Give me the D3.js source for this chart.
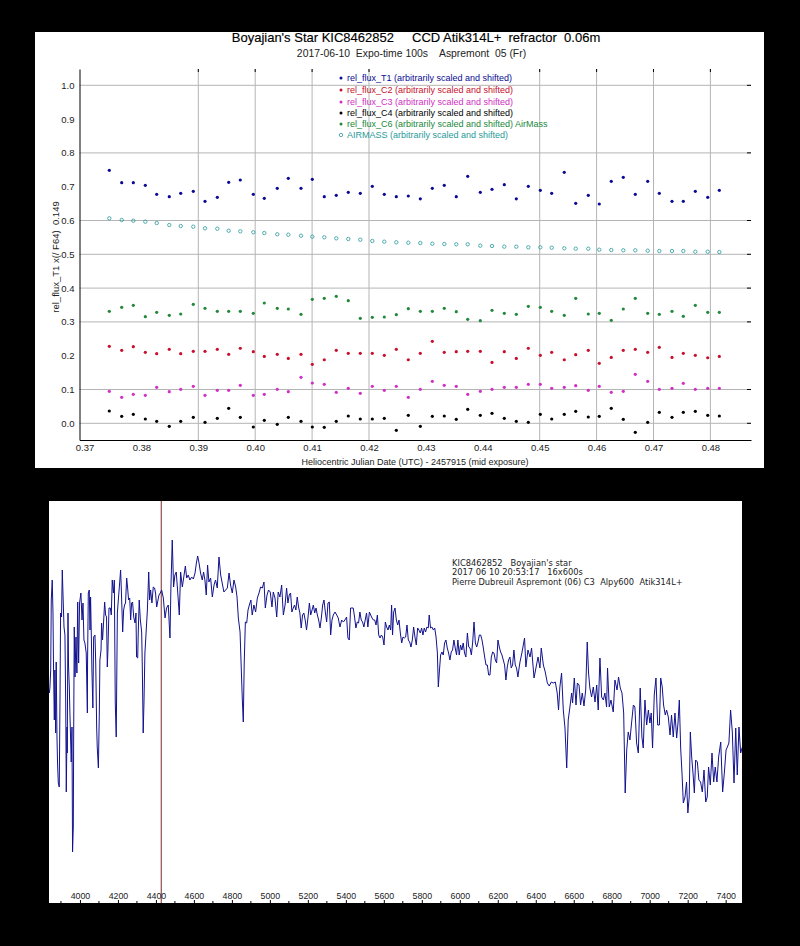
<!DOCTYPE html>
<html><head><meta charset="utf-8">
<script src="https://cdnjs.cloudflare.com/ajax/libs/d3/7.8.5/d3.min.js"></script>
<style>
html,body{margin:0;padding:0;background:#000;}
svg{display:block;}
text{font-family:"Liberation Sans",Arial,sans-serif;white-space:pre;}
</style></head><body><svg id="c" width="800" height="946"></svg>
<script>
const jd=[.37436,.37654,.37858,.38069,.38269,.3849,.38691,.38912,.39118,.39334,.39534,.39738,.39967,.4016,.40388,.40582,.40805,.41004,.41214,.41425,.41636,.41847,.42058,.42269,.4248,.42691,.42902,.43113,.43323,.43534,.43735,.43956,.44162,.44378,.44589,.448,.45011,.45211,.45432,.45633,.45854,.46047,.46258,.46469,.4668,.46898,.47102,.47325,.47524,.47735,.47953,.48157];
const fluxT1=[.7485,.7119,.7119,.7041,.6775,.6705,.6805,.6864,.6568,.6686,.713,.7198,.6775,.6657,.6953,.7249,.6953,.7219,.6705,.6746,.6834,.6805,.7012,.6775,.6705,.6725,.6642,.6953,.7041,.6705,.7308,.6834,.6923,.7059,.6642,.7012,.6893,.6805,.7426,.6509,.6746,.6488,.716,.7278,.6775,.716,.6805,.6568,.6568,.6864,.6686,.6893];
const fluxC2=[.2278,.216,.2266,.21,.206,.219,.206,.213,.213,.219,.204,.222,.212,.198,.204,.192,.204,.1745,.188,.216,.207,.207,.207,.201,.219,.188,.207,.2426,.21,.212,.213,.213,.18,.212,.192,.222,.201,.21,.188,.203,.216,.1775,.195,.216,.219,.21,.2248,.195,.207,.201,.194,.198];
const fluxC3=[.0947,.0769,.0858,.0828,.1065,.0935,.1006,.1095,.0828,.0976,.0976,.1124,.0828,.0858,.1006,.0935,.136,.1192,.1154,.0917,.1035,.0888,.1095,.0976,.1095,.0769,.1006,.1243,.1124,.1095,.0858,.0947,.1006,.1065,.1065,.1154,.1154,.1035,.1065,.1112,.0976,.1095,.0917,.0947,.145,.1243,.1006,.1035,.1183,.1006,.1035,.1035];
const fluxC4=[.0364,.0207,.0266,.0127,.0059,-.0089,.0059,.0178,.003,.0148,.0444,.0178,-.0109,.0089,-.003,.0178,.0059,-.0109,-.0118,.0059,.0216,.0127,.0127,.0148,-.0207,.0237,-.0089,.0207,.0216,.0118,.0414,.0237,.0296,.0148,.0059,.003,.0266,.0127,.0266,.0355,.0186,.0207,.0444,.0118,-.0266,.003,.0325,.0178,.0325,.0355,.0237,.0216];
const fluxC6=[.3314,.3432,.3491,.3154,.3284,.3195,.3234,.3521,.3402,.3314,.3314,.3314,.3254,.3559,.3402,.3382,.3225,.3669,.3698,.3757,.3627,.3107,.3136,.3145,.3213,.3391,.3314,.3314,.3402,.3302,.3077,.3036,.3343,.3254,.3225,.3461,.3432,.3314,.3195,.3698,.3234,.3254,.3047,.3382,.3698,.3254,.3225,.3314,.3166,.3491,.3284,.3284];
const airmass=[.6065,.6015,.5994,.5965,.5926,.5867,.5837,.5817,.5769,.5757,.5698,.568,.5651,.563,.5592,.558,.555,.5521,.5503,.5473,.5453,.5432,.5394,.5373,.5355,.5343,.5334,.5314,.5305,.5296,.5296,.5255,.5246,.5226,.5226,.5207,.5207,.5195,.5178,.5166,.5166,.5136,.5127,.5118,.5118,.5107,.5098,.5098,.5098,.5077,.5077,.5068];
const seriesNames=["rel_flux_T1 (arbitrarily scaled and shifted)","rel_flux_C2 (arbitrarily scaled and shifted)","rel_flux_C3 (arbitrarily scaled and shifted)","rel_flux_C4 (arbitrarily scaled and shifted)","rel_flux_C6 (arbitrarily scaled and shifted) AirMass","AIRMASS (arbitrarily scaled and shifted)"];
const seriesColors=["#0a0a96","#c8102e","#d22fc4","#000000","#22883a","#2a9a9a"];
const xTicksTop=[.37,.38,.39,.40,.41,.42,.43,.44,.45,.46,.47,.48];
const yTicksTop=[0,.1,.2,.3,.4,.5,.6,.7,.8,.9,1];
const xGridTop=[.39,.40,.41,.42,.45,.46,.47,.48];
const yGridTop=[0,.1,.3,.4,.5,.6,.8,1];
const specWave=[3839,3842,3846,3849,3854,3858,3861,3865,3868,3872,3875,3879,3882,3886,3891,3895,3898,3903,3907,3910,3916,3921,3925,3928,3932,3933,3937,3940,3944,3947,3954,3958,3961,3965,3967,3970,3974,3979,3984,3988,3993,3998,4005,4011,4016,4021,4026,4033,4039,4040,4044,4049,4053,4056,4060,4063,4068,4072,4079,4083,4088,4091,4097,4102,4105,4111,4114,4119,4125,4130,4135,4140,4144,4147,4153,4160,4165,4170,4176,4181,4186,4191,4197,4202,4209,4214,4218,4225,4230,4235,4240,4246,4251,4256,4262,4267,4272,4277,4283,4290,4295,4298,4304,4307,4312,4318,4325,4328,4333,4337,4342,4349,4355,4362,4367,4372,4379,4386,4393,4398,4404,4409,4416,4423,4430,
4439,4448,4456,4465,4474,4479,4486,4493,4500,4507,4514,4523,4530,4539,4546,4555,4562,4570,4579,4588,4597,4606,4613,4620,4627,4635,4644,4651,4658,4665,4672,4679,4688,4697,4706,4714,4723,4732,4741,4749,4758,4767,4776,4785,4793,4802,4811,4820,4827,4834,4843,4850,4855,4860,4865,4871,4878,4885,4892,4900,4907,4916,4925,4934,4943,4951,4960,4969,4976,4985,4993,5002,5011,5018,5027,5036,5044,5053,5062,5071,5080,
5088,5095,5102,5109,5116,5123,5130,5137,5144,5151,5158,5165,5172,5179,5186,5193,5201,5208,5215,5222,5229,5236,5243,5250,5257,5264,5271,5278,5285,5292,5299,5306,5313,5320,5327,5334,5343,5352,5360,5369,5378,5387,5395,5404,5411,5418,5425,5432,5439,5446,5453,5460,5467,5474,5481,5488,5495,5502,5509,5516,5524,5531,5538,5545,5552,5559,5566,5573,5580,5587,5594,5601,5608,5615,5622,5629,5636,5641,5646,5652,5659,5666,5673,5680,5687,5694,5701,5708,5715,5722,5729,5736,5743,5750,5757,5764,5771,5778,5785,5792,5799,5806,5813,5820,5827,5834,5839,5846,5853,5861,5868,5875,5882,5887,5892,5899,5906,5913,5920,5927,5934,5941,5948,5955,5962,5969,5976,5983,5990,5997,6004,6011,6018,6025,6032,6040,6047,6054,6061,6068,6075,6082,6089,6096,6103,6110,6117,6124,6131,6138,6145,6152,6159,6166,6173,6180,6187,6194,6201,6208,6215,6222,6229,6236,6243,6250,6257,6264,6271,6278,6285,6292,6299,6306,6313,
6317,6327,6341,6348,6359,6370,6378,6391,6401,6412,6422,6429,6440,6450,6461,6471,6482,6492,6503,6513,6520,6527,6536,6545,6554,6563,6571,6580,6589,6594,6603,6612,6619,6628,6636,6645,6654,6663,6671,6678,6685,6694,6703,6712,6721,6729,6738,6747,6756,6764,6773,6778,6787,6796,6808,6817,6828,6836,6845,6854,6863,6871,6879,6887,6896,6905,6914,6922,6931,6940,6950,6959,6966,6975,6984,6993,7001,7008,7015,7024,7033,7042,7051,7058,7066,7073,7082,7089,7098,7107,7115,7124,7133,7142,7149,7156,7163,7170,7177,7186,7194,7201,7208,7214,7221,7228,7235,7242,7251,7259,7268,7277,7286,7295,7303,7310,7319,7328,7337,7345,7354,7363,7374,7384,7393,7402,7409,7417,7426,7435,7444,7453,7461,7470,7479,7488];
const specFlux=[210,216,233,303,323,290,233,183,233,170,241,166,140,120,116,205,290,286,333,313,276,268,200,111,176,150,290,236,216,190,141,176,51,76,173,276,226,266,230,301,240,300,310,283,300,263,260,250,190,240,310,313,273,306,266,233,195,266,268,240,176,156,135,190,243,253,280,263,283,301,288,286,236,251,295,295,288,323,310,323,200,166,290,303,320,333,313,271,293,298,300,325,315,303,305,283,300,301,286,280,290,246,245,271,303,283,271,240,170,200,250,273,293,331,303,313,300,316,315,310,296,301,308,310,313,
305,285,295,298,265,316,363,316,328,331,313,288,331,316,325,337,325,328,323,326,324,330,340,347,340,330,323,331,323,308,338,321,325,306,318,323,315,346,328,320,311,313,315,330,318,310,323,316,306,285,271,231,203,181,240,281,280,293,298,303,288,298,291,305,310,316,315,321,295,308,313,311,296,311,305,286,311,306,318,288,298,
315,300,308,310,291,295,298,293,306,296,290,275,288,290,283,273,286,300,288,293,298,290,295,288,283,275,285,298,303,291,281,300,301,268,283,288,291,288,285,276,283,281,283,286,265,263,295,295,295,286,275,281,280,291,283,281,276,283,290,276,291,288,285,283,283,278,288,268,265,268,266,258,281,276,273,278,273,298,268,291,295,283,278,283,270,260,266,265,266,278,263,261,256,263,276,266,258,275,273,270,275,268,275,271,276,275,288,275,276,273,275,266,250,216,230,248,251,248,260,263,255,250,243,251,253,263,255,248,263,248,258,253,260,250,246,270,256,255,248,261,281,260,256,261,268,268,263,255,246,238,238,228,228,246,251,250,243,240,263,256,251,248,243,238,223,236,243,246,235,238,253,238,235,226,236,
241,250,265,236,253,246,255,225,235,246,235,255,238,231,220,217,221,220,221,210,193,216,230,193,175,135,183,196,210,200,225,198,220,218,198,210,197,213,261,230,215,206,216,201,218,193,245,206,203,210,196,235,196,203,191,223,213,226,215,210,190,110,153,171,163,181,198,196,160,150,215,166,155,203,178,193,180,190,155,208,225,178,178,225,216,198,188,193,186,168,188,166,190,165,180,203,155,130,100,106,121,90,106,171,146,130,110,143,141,123,121,111,133,101,106,136,118,150,121,136,121,146,161,111,130,153,156,160,193,171,120,175,128,176,150,156];
const specTicks=[4000,4200,4400,4600,4800,5000,5200,5400,5600,5800,6000,6200,6400,6600,6800,7000,7200,7400];
const specMinor=[3900,4100,4300,4500,4700,4900,5100,5300,5500,5700,5900,6100,6300,6500,6700,6900,7100,7300];
const specMarker=[4428];
const specNotes=["KIC8462852   Boyajian's star","2017 06 10 20:53:17   16x600s","Pierre Dubreuil Aspremont (06) C3  Alpy600  Atik314L+"];

const svg=d3.select("#c");
svg.append("rect").attr("x",35).attr("y",32).attr("width",729).attr("height",436).attr("fill","#fff");
const x=d3.scaleLinear().domain([.37,.48]).range([84.5,710.4]);
const y=d3.scaleLinear().domain([0,1]).range([423.3,85.3]);
const L=x.invert(79.5),R=x.invert(751),T=y.invert(69),B=y.invert(440);
const tp=svg.append("g");
const grey="#b5b5b5";
tp.selectAll(".gx").data(xGridTop).join("line").attr("class","gx").attr("x1",d=>x(d)).attr("x2",d=>x(d)).attr("y1",y(T)).attr("y2",y(B)).attr("stroke",grey);
tp.selectAll(".gy").data(yGridTop).join("line").attr("class","gy").attr("x1",x(L)).attr("x2",x(R)).attr("y1",d=>y(d)).attr("y2",d=>y(d)).attr("stroke",grey);
tp.selectAll(".tt").data(xGridTop).join("line").attr("class","tt").attr("x1",d=>x(d)).attr("x2",d=>x(d)).attr("y1",y(T)).attr("y2",y(T)+3).attr("stroke","#000");
tp.selectAll(".rt").data(yGridTop).join("line").attr("class","rt").attr("x1",x(R)-4).attr("x2",x(R)).attr("y1",d=>y(d)).attr("y2",d=>y(d)).attr("stroke","#000");
const ax=d3.axisBottom(x.copy().domain([L,R]).range([x(L),x(R)])).tickValues(xTicksTop).tickFormat(d3.format(".2f")).tickSize(0).tickPadding(4);
const gb=tp.append("g").attr("transform",`translate(0,${y(B)})`).call(ax);
gb.select(".domain").attr("stroke","#000");
const ay=d3.axisLeft(y.copy().domain([B,T]).range([y(B),y(T)])).tickValues(yTicksTop).tickFormat(d3.format(".1f")).tickSize(0).tickPadding(5);
const gl=tp.append("g").attr("transform",`translate(${x(L)},0)`).call(ay);
gl.select(".domain").attr("stroke","#000");
tp.selectAll(".tick text").style("font-family",'"Liberation Sans"').style("font-size","9.5px").attr("fill","#222");
const series=[fluxT1,fluxC2,fluxC3,fluxC4,fluxC6];
series.forEach((s,i)=>{
  tp.append("g").selectAll("circle").data(s).join("circle")
    .attr("cx",(d,j)=>x(jd[j])).attr("cy",d=>y(d)).attr("r",1.6).attr("fill",seriesColors[i]);
});
tp.append("g").selectAll("circle").data(airmass).join("circle")
  .attr("cx",(d,j)=>x(jd[j])).attr("cy",d=>y(d)).attr("r",1.7).attr("fill","none").attr("stroke",seriesColors[5]).attr("stroke-width",.8);
const legY=[78,90,102,113,124,135];
seriesNames.forEach((n,i)=>{
  if(i<5) tp.append("circle").attr("cx",341).attr("cy",legY[i]).attr("r",1.5).attr("fill",seriesColors[i]);
  else tp.append("circle").attr("cx",341).attr("cy",legY[i]).attr("r",1.7).attr("fill","none").attr("stroke",seriesColors[i]).attr("stroke-width",.8);
  tp.append("text").attr("x",347).attr("y",legY[i]+3).attr("font-size",9).attr("fill",seriesColors[i]).text(n);
});
tp.append("text").attr("x",416).attr("y",42).attr("text-anchor","middle").attr("font-size",13).attr("fill","#000").attr("stroke","#000").attr("stroke-width",.15).text("Boyajian's Star KIC8462852     CCD Atik314L+  refractor  0.06m");
tp.append("text").attr("x",411.5).attr("y",57).attr("text-anchor","middle").attr("font-size",10.4).attr("fill","#222").text("2017-06-10  Expo-time 100s    Aspremont  05 (Fr)");
tp.append("text").attr("x",415).attr("y",465).attr("text-anchor","middle").attr("font-size",9).attr("fill","#222").text("Heliocentric Julian Date (UTC) - 2457915 (mid exposure)");
tp.append("text").attr("transform","translate(59,257) rotate(-90)").attr("text-anchor","middle").attr("font-size",9.5).attr("fill","#222").text("rel_flux_T1 x(/ F64)  0.149");
svg.append("rect").attr("x",49).attr("y",501).attr("width",693).attr("height",402).attr("fill","#fff");
const sx=d3.scaleLinear().domain([3837,7486]).range([49,742]);
const sy=d3.scaleLinear().domain([0,402]).range([903,501]);
svg.append("clipPath").attr("id","sc").append("rect").attr("x",49).attr("y",501).attr("width",693).attr("height",402);
const sp=svg.append("g").attr("clip-path","url(#sc)");
sp.selectAll(".m").data(specMarker).join("line").attr("x1",d=>sx(d)).attr("x2",d=>sx(d)).attr("y1",501).attr("y2",903).attr("stroke","#7c2a2a");
sp.append("path").datum(specFlux).attr("fill","none").attr("stroke","#12128e").attr("stroke-width",1)
  .attr("d",d3.line().x((d,i)=>sx(specWave[i])).y(d=>sy(d)));
const sMaj=d3.axisTop(sx).tickValues(specTicks).tickSize(3).tickPadding(1).tickFormat(d3.format("d"));
const gs=svg.append("g").attr("transform","translate(0,903)").call(sMaj);
gs.select(".domain").remove();
gs.selectAll("line").attr("stroke","#000");
gs.selectAll("text").style("font-family",'"Liberation Sans"').style("font-size","8.8px").attr("fill","#222");
svg.append("g").selectAll("line").data(specMinor).join("line").attr("x1",d=>sx(d)).attr("x2",d=>sx(d)).attr("y1",901).attr("y2",903).attr("stroke","#000");
specNotes.forEach((t,i)=>{
  svg.append("text").attr("x",452).attr("y",[566,575,585][i]).style("font-family",'"DejaVu Sans"').attr("font-size",8.3).attr("fill","#222").text(t);
});
</script></body></html>
